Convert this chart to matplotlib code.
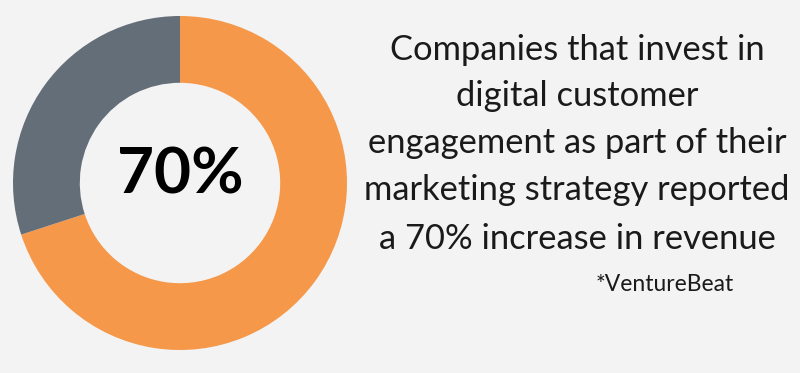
import matplotlib.pyplot as plt

# data
shares = [70, 30]
share_colors = ['#f5984a', '#646e79']
center_label = '70%'
statement_lines = [
    'Companies that invest in',
    'digital customer',
    'engagement as part of their',
    'marketing strategy reported',
    'a 70% increase in revenue',
]
source_note = '*VentureBeat'

bg = '#f3f3f3'
W, H = 800, 373

fig = plt.figure(figsize=(W / 100, H / 100), dpi=100, facecolor=bg)

# donut, placed in pixel units
cx, cy, r = 180, 183, 167
ax = fig.add_axes([(cx - r) / W, (H - cy - r) / H, 2 * r / W, 2 * r / H])
ax.set_facecolor(bg)
ax.pie(shares, colors=share_colors, startangle=90, counterclock=False,
       radius=1.0, wedgeprops=dict(width=0.4, linewidth=0))
ax.set_xlim(-1, 1)
ax.set_ylim(-1, 1)
ax.set_aspect('equal')
ax.axis('off')
ax.text(0, 0.05, center_label, ha='center', va='center',
        fontsize=46, fontweight='bold', family='Lato', color='black')

# statement text on the right
thin = dict(family='Lato', weight='normal', color='#1a1a1a')
baselines = [60, 106, 153, 200, 249]
for line, yb in zip(statement_lines, baselines):
    fig.text(577 / W, 1 - yb / H, line, ha='center', va='baseline',
             fontsize=24.8, **thin)
fig.text(665 / W, 1 - 291 / H, source_note, ha='center', va='baseline',
         fontsize=16.5, **thin)

fig.savefig('out.png', dpi=100, facecolor=bg)
